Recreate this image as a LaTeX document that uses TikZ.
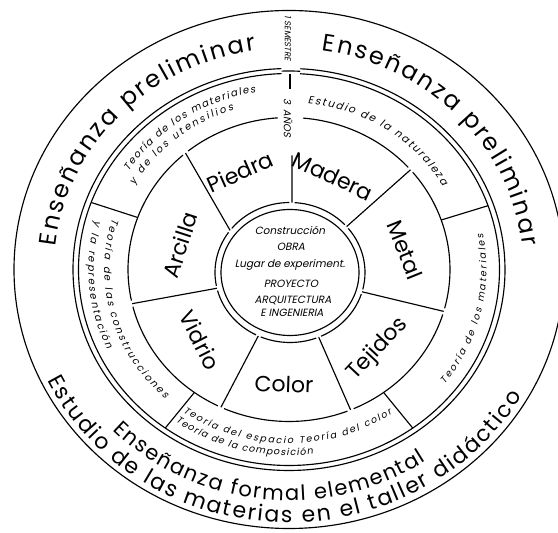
\documentclass[tikz,border=0pt]{standalone}
\usepackage{fontspec}
\setmainfont{Poppins}
\newfontfamily\slfont[FakeSlant=0.2]{Poppins}
\usetikzlibrary{decorations.text}
\begin{document}
\begin{tikzpicture}[x=1pt,y=1pt,line width=1.15pt,
  lbl/.style={font=\fontsize{22}{22}\selectfont, inner sep=0pt},
  ctr/.style={font=\slfont\fontsize{10.5}{10.5}\selectfont, inner sep=0pt},
  arctext/.style={decorate, decoration={text along path, text align={fit to path}, text={#1}}},
  ring/.style={line width=1.15pt}
]
\fill[white] (0,0) rectangle (558,533);
\useasboundingbox (0,0) rectangle (558,533);
\begin{scope}[shift={(289,263.5)}]
 % outer circle
 \draw[ring] (0,0) ellipse [x radius=275, y radius=259];
 % double ring with notch at top
 \draw[ring] (92:216 and 201) arc[start angle=92, end angle=447, x radius=216, y radius=201];
 \draw[ring] (92:210.5 and 196) arc[start angle=92, end angle=447, x radius=210.5, y radius=196];
 \draw[ring] (87:213 and 198.5) arc[start angle=87, end angle=92, x radius=213, y radius=198.5];
 % materials outer ring (segments)
 \foreach \a/\b in {94/128.8, 131.2/191.8, 194.2/243.8, 246.2/291.3, 293.7/342.8, 345.2/399.8, 402.2/445}
   \draw[ring] (\a:161 and 152) arc[start angle=\a, end angle=\b, x radius=161, y radius=152];
 % inner rings
 \begin{scope}[shift={(1,-3)}]
  \foreach \a/\b in {90.5/141, 145/191, 195/243, 247/290.5, 294.5/342, 346/399, 403/446.5}
    \draw[ring] (\a:75 and 70) arc[start angle=\a, end angle=\b, x radius=75, y radius=70];
  \draw[ring] (0,0) ellipse [x radius=69, y radius=63];
 \end{scope}
 % material dividers
 \draw[ring] ([shift={(1,-3)}]143:75 and 70) -- (130:161 and 152);
 \draw[ring] ([shift={(1,-3)}]88.5:75 and 70) -- (3,114);
 \foreach \a in {41,-16,-67.5,245,193}
   \draw[ring] ([shift={(1,-3)}]\a:75 and 70) -- (\a:161 and 152);
 % theory band dividers
 \foreach \a in {160,19,-54,234}
   \draw[ring] (\a:161 and 152) -- (\a:210.5 and 196);
 \draw[ring] (1,180) -- (1,195);
 % vertical labels
 \node[font=\slfont\fontsize{8.5}{8.5}\selectfont, rotate=-90, inner sep=0pt] (sem) at (-1,231) {1 SEMESTRE};
 \node[font=\slfont\fontsize{10}{10}\selectfont, rotate=-90, inner sep=0pt] (anos) at (-1,151.5) {3\enspace AÑOS};
 % material labels
 \node[lbl, rotate=24] (piedra) at (-49,97.5) {Piedra};
 \node[lbl, rotate=-25] (madera) at (44,93.5) {Madera};
 \node[lbl, rotate=-68] (metal) at (116,19.5) {Metal};
 \node[lbl, rotate=47] (tejidos) at (89,-79.5) {Tejidos};
 \node[lbl, rotate=-2] (color) at (-5,-114.5) {Color};
 \node[lbl, rotate=-63] (vidrio) at (-89,-70.5) {Vidrio};
 \node[lbl, rotate=72] (arcilla) at (-109,24.5) {Arcilla};
 % centre texts
 \node[ctr] (c1) at (1,39.5) {Construcción};
 \node[ctr] (c2) at (2,22.5) {OBRA};
 \node[ctr] (c3) at (1,4.5) {Lugar de experiment.};
 \node[ctr] (c4) at (2,-14.5) {PROYECTO};
 \node[ctr] (c5) at (4,-30.5) {ARQUITECTURA};
 \node[ctr] (c6) at (3,-43.5) {E INGENIERIA};
 % outer band texts
 \path[arctext={|\fontsize{24}{24}\selectfont|Enseñanza preliminar}] (174:234.7 and 221) arc[start angle=174, end angle=98, x radius=234.7, y radius=221];
 \path[arctext={|\fontsize{24}{24}\selectfont|Enseñanza preliminar}] (82:234.7 and 221) arc[start angle=82, end angle=6, x radius=234.7, y radius=221];
 \path[arctext={|\fontsize{21}{21}\selectfont|Enseñanza formal elemental}] (224:245.3 and 231) arc[start angle=224, end angle=304, x radius=245.3, y radius=231];
 \path[arctext={|\fontsize{22}{22}\selectfont|Estudio de las materias en el taller didáctico}] (206:268.7 and 253) arc[start angle=206, end angle=330, x radius=268.7, y radius=253];
 % theory band texts
 \path[arctext={|\slfont\fontsize{10}{10}\selectfont|Teoría de los materiales}] (147:191.2 and 180) arc[start angle=147, end angle=100, x radius=191.2, y radius=180];
 \path[arctext={|\slfont\fontsize{10}{10}\selectfont|y de los utensilios}] (150:178.4 and 168) arc[start angle=150, end angle=108, x radius=178.4, y radius=168];
 \path[arctext={|\slfont\fontsize{10.5}{10.5}\selectfont|Estudio de la naturaleza}] (84:177.4 and 167) arc[start angle=84, end angle=30, x radius=177.4, y radius=167];
 \path[arctext={|\slfont\fontsize{9.5}{9.5}\selectfont|Teoría de los materiales}] (-38:197.5 and 186) arc[start angle=-38, end angle=11, x radius=197.5, y radius=186];
 \path[arctext={|\slfont\fontsize{9.5}{9.5}\selectfont|Teoría del espacio Teoría del color}] (235:184.8 and 174) arc[start angle=235, end angle=304, x radius=184.8, y radius=174];
 \path[arctext={|\slfont\fontsize{9.5}{9.5}\selectfont|Teoría de la composición}] (235:197.5 and 186) arc[start angle=235, end angle=277, x radius=197.5, y radius=186];
 \path[arctext={|\slfont\fontsize{10}{10}\selectfont|Teoría de las construcciones}] (163:184.8 and 174) arc[start angle=163, end angle=228, x radius=184.8, y radius=174];
 \path[arctext={|\slfont\fontsize{10}{10}\selectfont|y la representación}] (165:200.7 and 189) arc[start angle=165, end angle=205, x radius=200.7, y radius=189];
\end{scope}
\end{tikzpicture}
\end{document}
